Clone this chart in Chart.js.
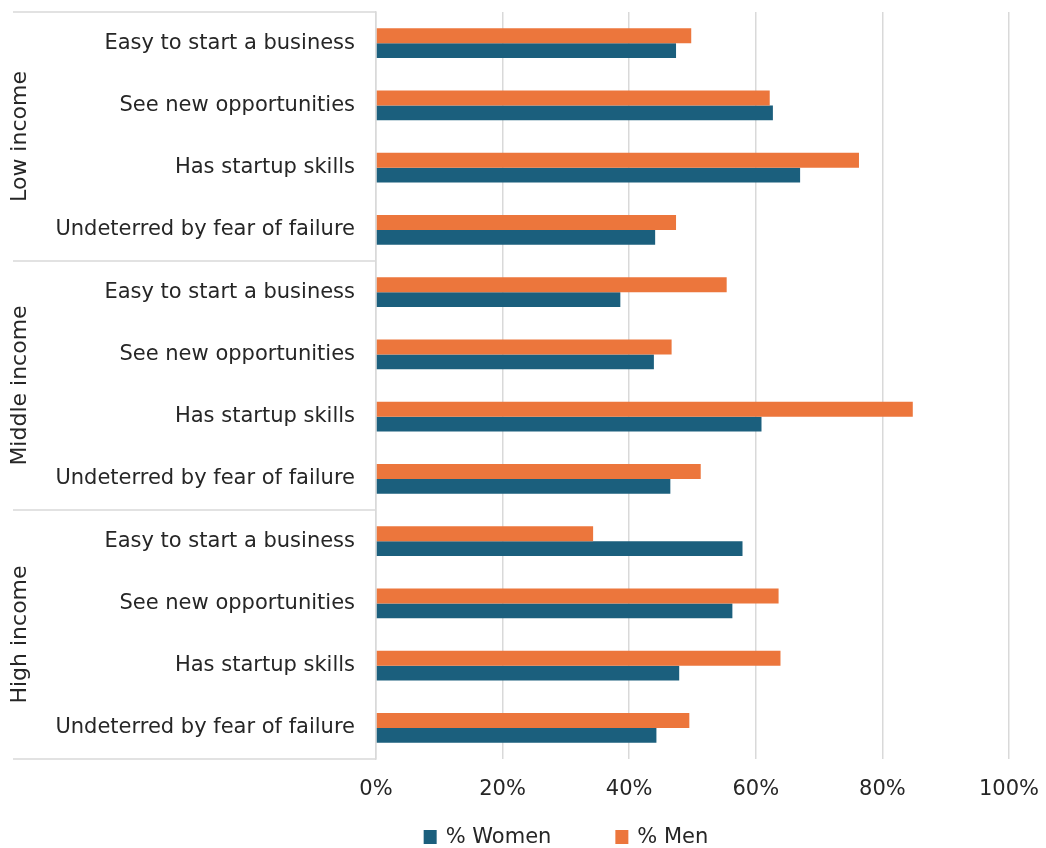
<!DOCTYPE html>
<html>
<head>
<meta charset="utf-8">
<script src="https://cdn.jsdelivr.net/npm/chart.js@4/dist/chart.umd.min.js"></script>
<style>
  html, body { margin: 0; padding: 0; background: #fff; }
  #wrap { width: 1046px; height: 848px; }
</style>
</head>
<body>
<div id="wrap"><canvas id="chart"></canvas></div>
<script>
// income groups, each with the same four measures
const groups = ['Low income', 'Middle income', 'High income'];
const measures = [
  'Easy to start a business',
  'See new opportunities',
  'Has startup skills',
  'Undeterred by fear of failure'
];
const women = [47.4, 62.7, 67.0, 44.1, 38.6, 43.9, 60.9, 46.5, 57.9, 56.3, 47.9, 44.3];
const men   = [49.8, 62.2, 76.3, 47.4, 55.4, 46.7, 84.8, 51.3, 34.3, 63.6, 63.9, 49.5];
const xTicks = [0, 20, 40, 60, 80, 100];

const labels = groups.flatMap(() => measures);

const FONT = '"DejaVu Sans", sans-serif';
const TEXT = '#262626';
const GRID = '#d9d9d9';
const AXIS_LEFT = 376;
const X_AXIS_H = 44;

// second-level category axis: group names + separator lines
const groupAxis = {
  id: 'groupAxis',
  afterDraw(chart) {
    const { ctx, chartArea, scales: { y } } = chart;
    const n = measures.length;
    ctx.save();
    ctx.strokeStyle = GRID;
    ctx.lineWidth = 1.5;
    for (let g = 0; g <= groups.length; g++) {
      let yy;
      if (g === 0) yy = chartArea.top;
      else if (g === groups.length) yy = chartArea.bottom;
      else yy = (y.getPixelForValue(g * n - 1) + y.getPixelForValue(g * n)) / 2;
      ctx.beginPath();
      ctx.moveTo(13, yy);
      ctx.lineTo(chartArea.left, yy);
      ctx.stroke();
    }
    ctx.fillStyle = TEXT;
    ctx.font = '22px ' + FONT;
    ctx.textAlign = 'center';
    ctx.textBaseline = 'middle';
    groups.forEach((name, g) => {
      const mid = (y.getPixelForValue(g * n) + y.getPixelForValue(g * n + n - 1)) / 2;
      ctx.save();
      ctx.translate(20, mid);
      ctx.rotate(-Math.PI / 2);
      ctx.fillText(name, 0, 0);
      ctx.restore();
    });
    ctx.restore();
  }
};

// legend in dataset order, with wide spacing between the two entries
const wideLegend = {
  id: 'wideLegend',
  afterDraw(chart) {
    const { ctx } = chart;
    const box = 13, gap = 9, spacing = 64, cx = 566, cy = 838;
    ctx.save();
    ctx.font = '21px ' + FONT;
    ctx.textBaseline = 'middle';
    ctx.textAlign = 'left';
    const items = chart.data.datasets.map(ds => ({
      text: ds.label, color: ds.backgroundColor, w: box + gap + ctx.measureText(ds.label).width
    }));
    const total = items.reduce((s, it) => s + it.w, 0) + spacing * (items.length - 1);
    let x = cx - total / 2;
    items.forEach(it => {
      ctx.fillStyle = it.color;
      ctx.fillRect(x, cy - 8, box, 14);
      ctx.fillStyle = TEXT;
      ctx.fillText(it.text, x + box + gap, cy);
      x += it.w + spacing;
    });
    ctx.restore();
  }
};

new Chart(document.getElementById('chart'), {
  type: 'bar',
  data: {
    labels: labels,
    datasets: [{
      label: '% Women',
      data: women,
      backgroundColor: '#1b5f7d',
      order: 1
    }, {
      label: '% Men',
      data: men,
      backgroundColor: '#ec763c',
      order: 0
    }]
  },
  options: {
    indexAxis: 'y',
    responsive: true,
    maintainAspectRatio: false,
    animation: false,
    barPercentage: 1,
    categoryPercentage: 0.48,
    layout: { padding: { left: 0, right: 37, top: 12, bottom: 848 - 759 - X_AXIS_H } },
    scales: {
      x: {
        min: 0,
        max: 100,
        afterBuildTicks(scale) {
          scale.ticks = xTicks.map(v => ({ value: v }));
        },
        afterFit(scale) {
          scale.height = X_AXIS_H;
          scale.paddingLeft = 0;
          scale.paddingRight = 0;
        },
        grid: { color: GRID, lineWidth: 1.5, drawTicks: false },
        border: { display: false },
        ticks: {
          padding: 18,
          maxRotation: 0,
          color: TEXT,
          font: { family: FONT, size: 21 },
          callback: v => v + '%'
        }
      },
      y: {
        grid: { display: false, drawTicks: false },
        border: { color: GRID, width: 1.5 },
        afterFit(scale) {
          scale.width = AXIS_LEFT;
          scale.paddingTop = 0;
          scale.paddingBottom = 0;
        },
        ticks: {
          padding: 21,
          color: TEXT,
          autoSkip: false,
          font: { family: FONT, size: 21 }
        }
      }
    },
    plugins: {
      legend: { display: false },
      tooltip: { enabled: false }
    }
  },
  plugins: [groupAxis, wideLegend]
});
</script>
</body>
</html>
